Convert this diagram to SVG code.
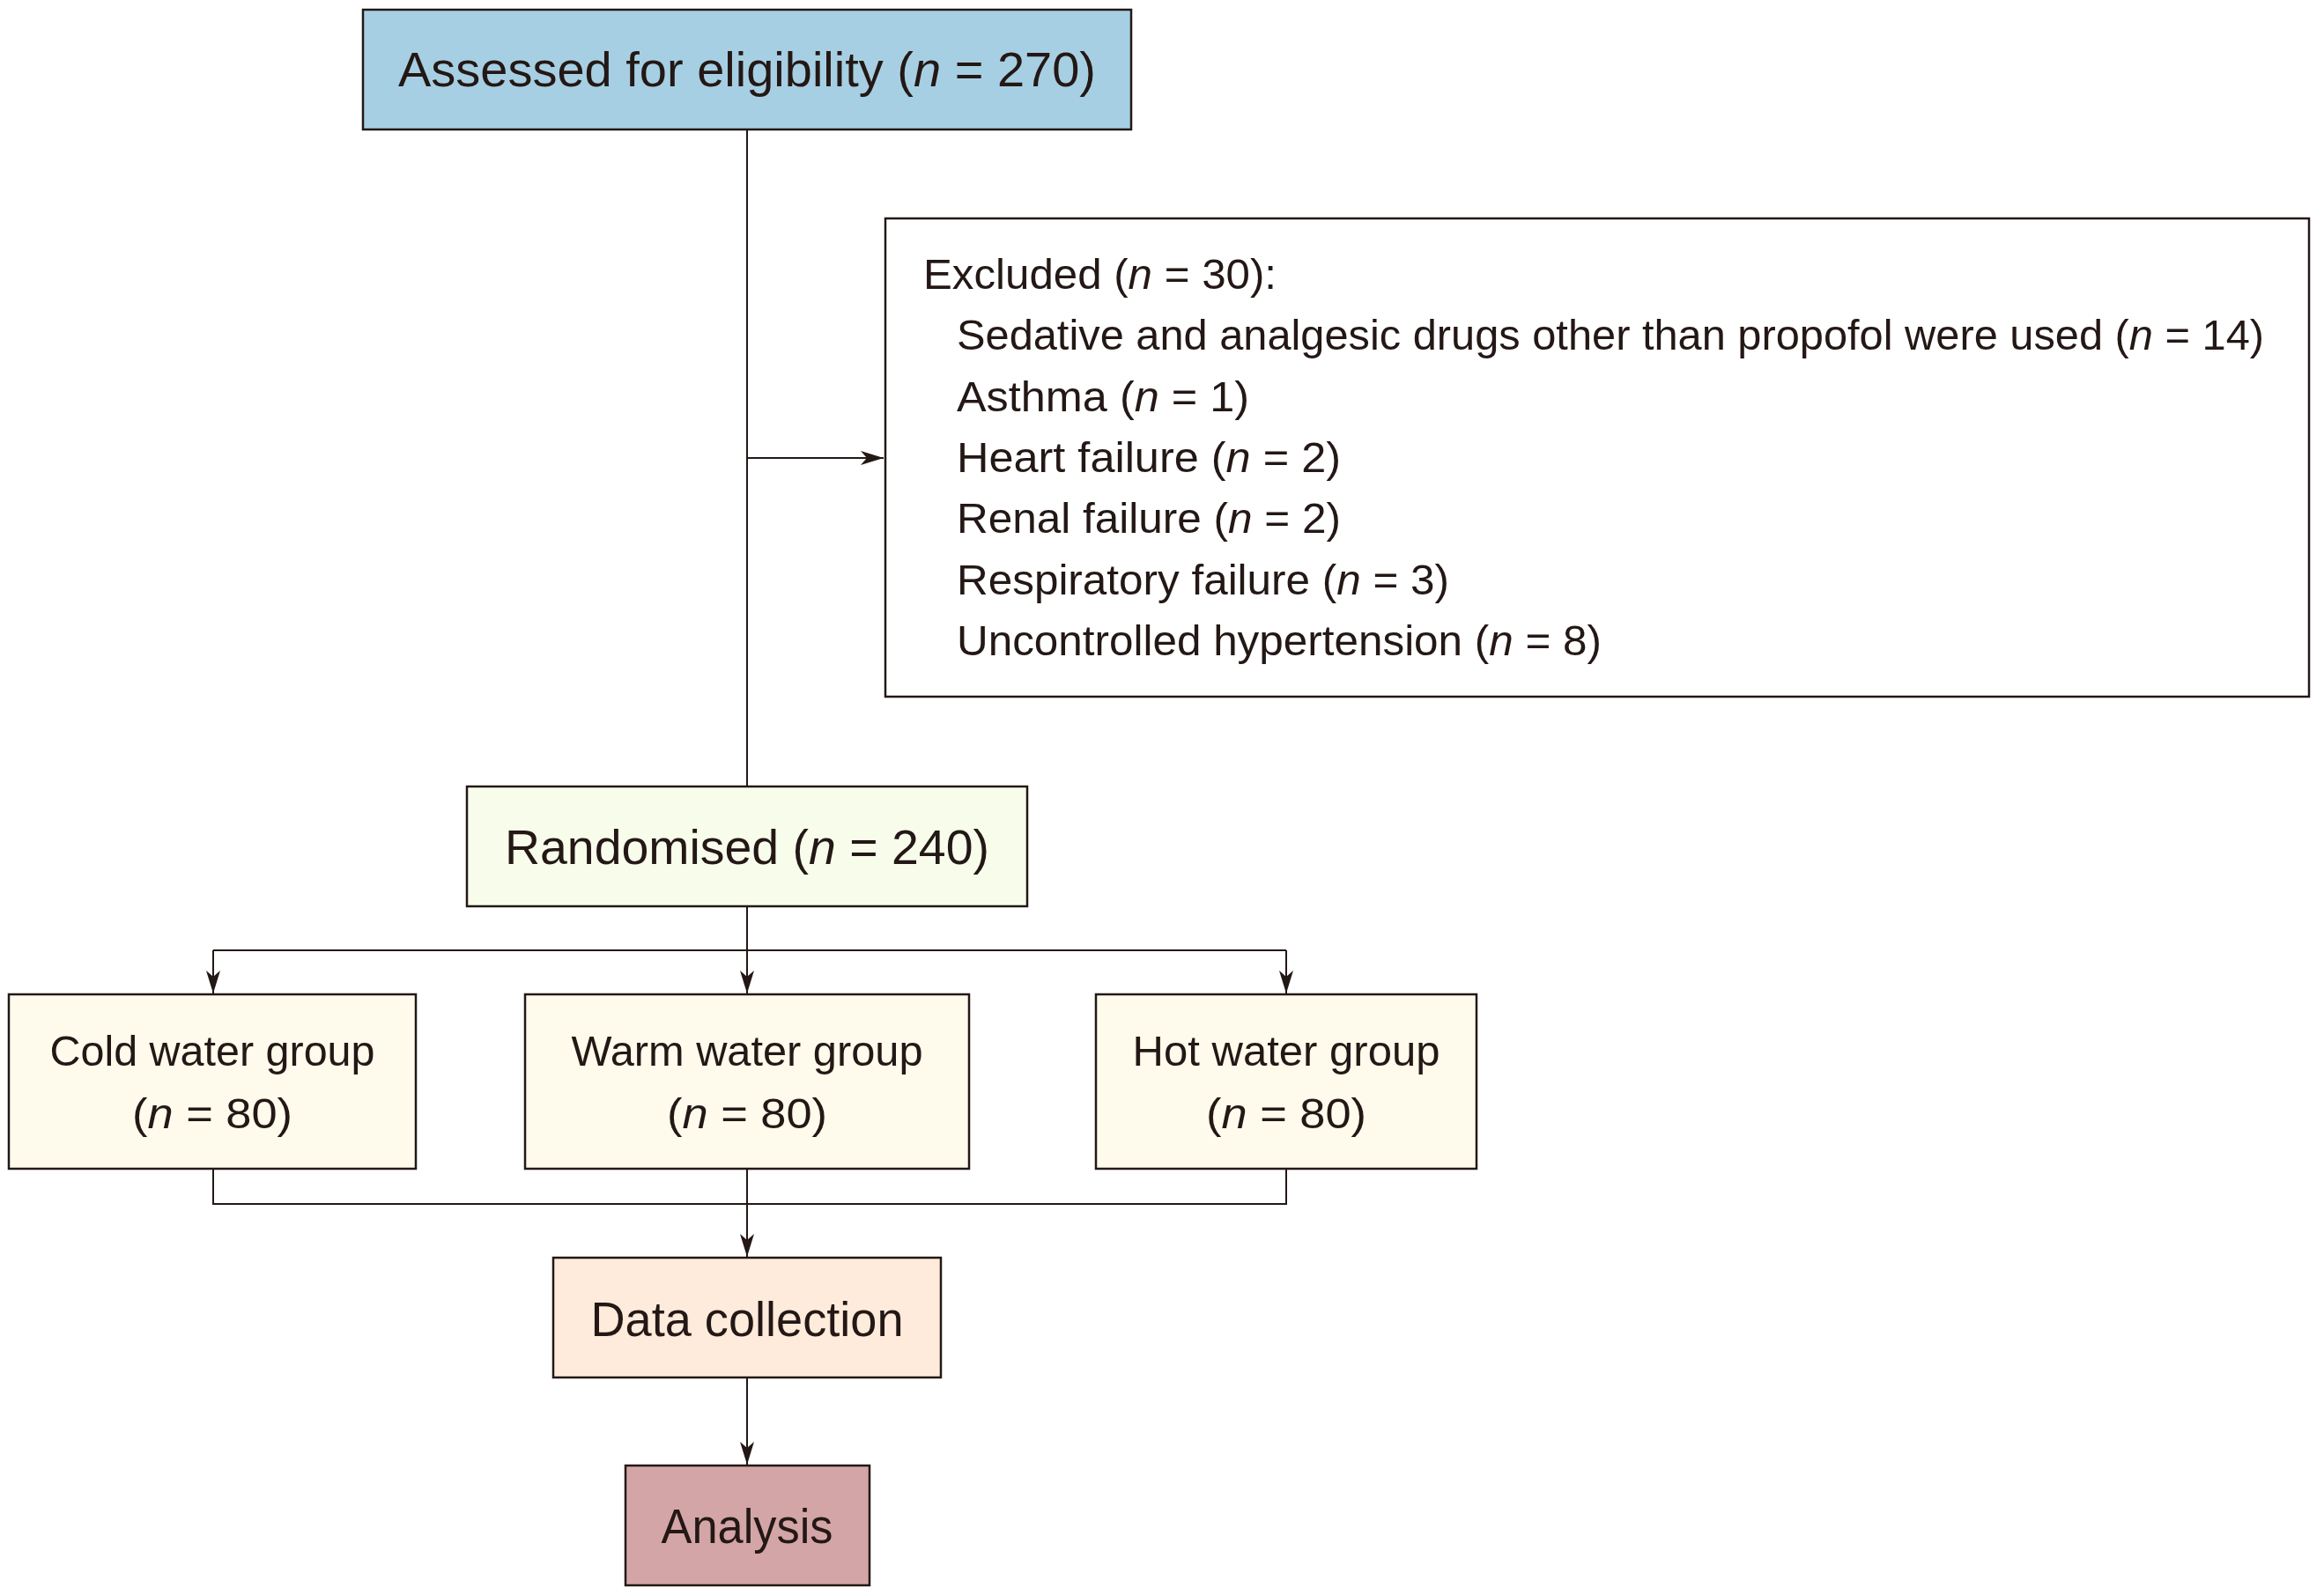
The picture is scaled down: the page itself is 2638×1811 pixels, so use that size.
<svg xmlns="http://www.w3.org/2000/svg" width="2638" height="1811" viewBox="0 0 2638 1811">
<style>
.box{stroke:#231815;stroke-width:2.5}
.t{font-family:"Liberation Sans",Arial,sans-serif;fill:#231815}
.big{font-size:55px}
.mid{font-size:48px}
.c{text-anchor:middle}
.i{font-style:italic}
.ln{fill:none;stroke:#231815;stroke-width:2}
</style>
<defs>
<marker id="ah" viewBox="0 0 26 16" refX="26" refY="8" markerWidth="26" markerHeight="16" markerUnits="userSpaceOnUse" orient="auto">
<path d="M0,0 L26,8 L0,16 L7,8 Z" fill="#231815"/>
</marker>
</defs>
<rect width="2638" height="1811" fill="#ffffff"/>
<g id="connectors">
<line class="ln" x1="848" y1="147" x2="848" y2="893"/>
<line class="ln" x1="848" y1="520" x2="1003" y2="520" marker-end="url(#ah)"/>
<line class="ln" x1="848" y1="1029" x2="848" y2="1079"/>
<line class="ln" x1="242" y1="1079" x2="1460" y2="1079"/>
<line class="ln" x1="242" y1="1079" x2="242" y2="1128" marker-end="url(#ah)"/>
<line class="ln" x1="848" y1="1079" x2="848" y2="1128" marker-end="url(#ah)"/>
<line class="ln" x1="1460" y1="1079" x2="1460" y2="1128" marker-end="url(#ah)"/>
<polyline class="ln" points="242,1327 242,1367 1460,1367 1460,1327"/>
<line class="ln" x1="848" y1="1327" x2="848" y2="1427" marker-end="url(#ah)"/>
<line class="ln" x1="848" y1="1564" x2="848" y2="1663" marker-end="url(#ah)"/>
</g>
<g id="assessed">
<rect class="box" x="412" y="11" width="872" height="136" fill="#A7CFE3"/>
<text class="t big c" x="848" y="98" textLength="792" lengthAdjust="spacingAndGlyphs">Assessed for eligibility (<tspan class="i">n</tspan> = 270)</text>
</g>
<g id="excluded">
<rect class="box" x="1005" y="248" width="1616" height="543" fill="#ffffff"/>
<text class="t mid" x="1048" y="328" textLength="401" lengthAdjust="spacingAndGlyphs">Excluded (<tspan class="i">n</tspan> = 30):</text>
<text class="t mid" x="1086" y="397" textLength="1484" lengthAdjust="spacingAndGlyphs">Sedative and analgesic drugs other than propofol were used (<tspan class="i">n</tspan> = 14)</text>
<text class="t mid" x="1086" y="467" textLength="332" lengthAdjust="spacingAndGlyphs">Asthma (<tspan class="i">n</tspan> = 1)</text>
<text class="t mid" x="1086" y="536" textLength="436" lengthAdjust="spacingAndGlyphs">Heart failure (<tspan class="i">n</tspan> = 2)</text>
<text class="t mid" x="1086" y="605" textLength="436" lengthAdjust="spacingAndGlyphs">Renal failure (<tspan class="i">n</tspan> = 2)</text>
<text class="t mid" x="1086" y="675" textLength="559" lengthAdjust="spacingAndGlyphs">Respiratory failure (<tspan class="i">n</tspan> = 3)</text>
<text class="t mid" x="1086" y="744" textLength="732" lengthAdjust="spacingAndGlyphs">Uncontrolled hypertension (<tspan class="i">n</tspan> = 8)</text>
</g>
<g id="randomised">
<rect class="box" x="530" y="893" width="636" height="136" fill="#F8FCEB"/>
<text class="t big c" x="848" y="981" textLength="550" lengthAdjust="spacingAndGlyphs">Randomised (<tspan class="i">n</tspan> = 240)</text>
</g>
<g id="cold">
<rect class="box" x="10" y="1129" width="462" height="198" fill="#FEFAEC"/>
<text class="t mid c" x="241" y="1210" textLength="369" lengthAdjust="spacingAndGlyphs">Cold water group</text>
<text class="t mid c" x="241" y="1281" textLength="182" lengthAdjust="spacingAndGlyphs">(<tspan class="i">n</tspan> = 80)</text>
</g>
<g id="warm">
<rect class="box" x="596" y="1129" width="504" height="198" fill="#FEFAEC"/>
<text class="t mid c" x="848" y="1210" textLength="399" lengthAdjust="spacingAndGlyphs">Warm water group</text>
<text class="t mid c" x="848" y="1281" textLength="182" lengthAdjust="spacingAndGlyphs">(<tspan class="i">n</tspan> = 80)</text>
</g>
<g id="hot">
<rect class="box" x="1244" y="1129" width="432" height="198" fill="#FEFAEC"/>
<text class="t mid c" x="1460" y="1210" textLength="349" lengthAdjust="spacingAndGlyphs">Hot water group</text>
<text class="t mid c" x="1460" y="1281" textLength="182" lengthAdjust="spacingAndGlyphs">(<tspan class="i">n</tspan> = 80)</text>
</g>
<g id="datacollection">
<rect class="box" x="628" y="1428" width="440" height="136" fill="#FEEBDB"/>
<text class="t big c" x="848" y="1517" textLength="355" lengthAdjust="spacingAndGlyphs">Data collection</text>
</g>
<g id="analysis">
<rect class="box" x="710" y="1664" width="277" height="136" fill="#D4A5A6"/>
<text class="t big c" x="848" y="1752" textLength="195" lengthAdjust="spacingAndGlyphs">Analysis</text>
</g>
</svg>
